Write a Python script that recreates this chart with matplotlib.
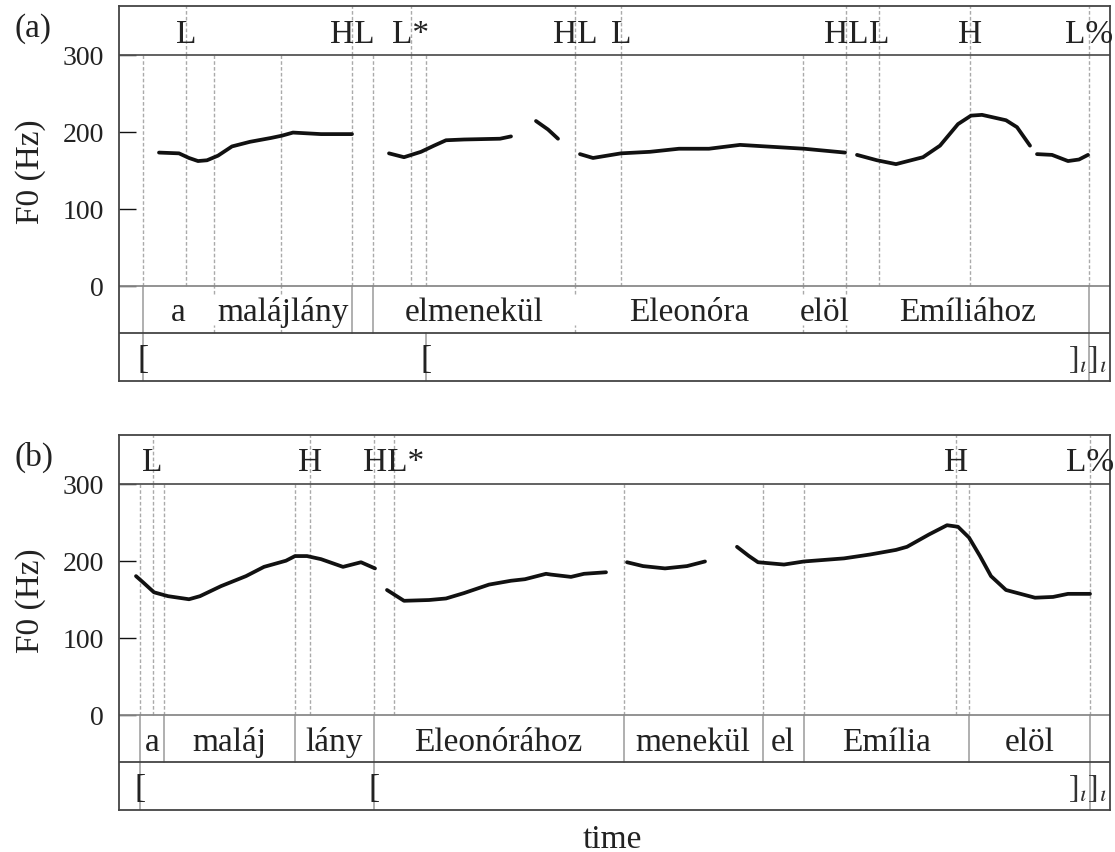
import matplotlib
matplotlib.use('Agg')
import matplotlib.pyplot as plt

plt.rcParams['font.family'] = ['Liberation Serif', 'DejaVu Serif']
plt.rcParams['mathtext.fontset'] = 'stix'

# ---------------- data (time in arbitrary units, F0 in Hz) ----------------
# panel (a)
a_seg1_t = [40, 60, 70, 79, 88, 99, 113, 131, 152, 163, 174, 188, 202, 233]
a_seg1_f = [173, 172, 166, 162, 163, 169, 181, 187, 192, 195, 199, 198, 197, 197]
a_seg2_t = [270, 285, 302, 315, 327, 345, 381, 392]
a_seg2_f = [172, 167, 174, 182, 189, 190, 191, 194]
a_seg3_t = [417, 429, 439]
a_seg3_f = [214, 203, 191]
a_seg4_t = [461, 474, 502, 531, 560, 590, 621, 685, 726]
a_seg4_f = [171, 166, 172, 174, 178, 178, 183, 178, 173]
a_seg5_t = [738, 758, 777, 804, 821, 839, 852, 863, 887, 898, 911]
a_seg5_f = [170, 163, 158, 167, 182, 210, 221, 222, 215, 206, 182]
a_seg6_t = [918, 933, 949, 960, 969]
a_seg6_f = [171, 170, 162, 164, 170]

a_dashed = [24, 67, 95, 162, 233, 254, 292, 307, 456, 502, 684, 727, 760, 851, 970]
a_tone_pos = [67, 233, 292, 456, 502, 727, 760, 851, 970]
a_tone_lab = ['L', 'HL', 'L*', 'HL', 'L', 'HL', 'L', 'H', 'L%']
a_word_solid = [24, 233, 254, 970]
a_word_short = [95, 162, 456, 684, 727]
a_words = ['a', 'malájlány', 'elmenekül', 'Eleonóra', 'elöl', 'Emíliához']
a_word_start = [24, 95, 254, 456, 684, 727]
a_word_end = [95, 233, 456, 684, 727, 970]
a_brk_lines = [24, 307, 970]
a_brk_open = [24, 307]

# panel (b)
b_seg1_t = [17, 24, 35, 49, 70, 81, 102, 127, 145, 167, 176, 188, 202, 224, 242, 256]
b_seg1_f = [180, 172, 159, 154, 150, 154, 167, 180, 192, 200, 206, 206, 202, 192, 198, 190]
b_seg2_t = [268, 285, 310, 327, 345, 370, 392, 406, 427, 432, 452, 465, 487]
b_seg2_f = [162, 148, 149, 151, 158, 169, 174, 176, 183, 182, 179, 183, 185]
b_seg3_t = [508, 524, 546, 568, 586]
b_seg3_f = [198, 193, 190, 193, 199]
b_seg4_t = [618, 630, 639, 665, 685, 725, 751, 777, 788, 810, 828, 839, 850, 861,
            872, 887, 916, 934, 949, 971]
b_seg4_f = [218, 206, 198, 195, 199, 203, 208, 214, 218, 234, 246, 244, 230, 206,
            180, 162, 152, 153, 157, 157]

b_dashed = [21, 33.5, 45, 176, 190.6, 254.6, 274.6, 504.6, 643.6, 684.7, 836.8, 850, 971]
b_tone_pos = [33.5, 190.6, 274.6, 836.8, 971]
b_tone_lab = ['L', 'H', 'HL*', 'H', 'L%']
b_tone_lines = [33.5, 190.6, 254.6, 274.6, 836.8, 971]
b_word_solid = [21, 45, 176, 254.6, 504.6, 643.6, 684.7, 850, 971]
b_word_short = []
b_words = ['a', 'maláj', 'lány', 'Eleonórához', 'menekül', 'el', 'Emília', 'elöl']
b_word_start = [21, 45, 176, 254.6, 504.6, 643.6, 684.7, 850]
b_word_end = [45, 176, 254.6, 504.6, 643.6, 684.7, 850, 971]
b_brk_lines = [21, 254.6, 971]
b_brk_open = [21, 254.6]

yticks = [0, 100, 200, 300]

# ---------------- layout ----------------
W, H = 1115, 853
XMAX = 991
TOP = 363.0
WORD_BOT = -61.5
BOT = -123.3
DASH_C = '#aaaaaa'
SOLID_C = '#9a9a9a'
FRAME_C = '#444444'
TXT_C = '#222222'
FS = 24

fig = plt.figure(figsize=(W / 100, H / 100), dpi=100)


def panel(box_top_px, box_bot_px, segs, dashed, tone_lines, tone_pos, tone_lab,
          word_solid, word_short, words, w_start, w_end, brk_lines, brk_open, tag,
          tag_y_px):
    left = 119 / W
    width = (1110 - 119) / W
    bottom = 1 - box_bot_px / H
    height = (box_bot_px - box_top_px) / H
    ax = fig.add_axes([left, bottom, width, height])
    ax.set_xlim(0, XMAX)
    ax.set_ylim(BOT, TOP)
    for s in ax.spines.values():
        s.set_color(FRAME_C)
        s.set_linewidth(1.3)
    ax.set_xticks([])
    ax.set_yticks(yticks)
    ax.set_yticklabels([str(v) for v in yticks])
    ax.tick_params(axis='y', direction='in', length=12, width=1.0, pad=11,
                   labelsize=20, colors='#111111', labelcolor=TXT_C)

    # tier separators
    ax.axhline(300, color='#555555', lw=1.3, zorder=2)
    ax.axhline(0, color='#8a8a8a', lw=1.3, zorder=2)
    ax.axhline(WORD_BOT, color=FRAME_C, lw=1.3, zorder=2)

    dash = (0, (2.6, 1.6))
    for x in dashed:
        ax.plot([x, x], [0, 300], color=DASH_C, lw=1.0, ls=dash, zorder=1)
    for x in tone_lines:
        ax.plot([x, x], [300, TOP], color=DASH_C, lw=1.0, ls=dash, zorder=1)
    for x in word_solid:
        ax.plot([x, x], [WORD_BOT, 0], color=SOLID_C, lw=1.1, zorder=1)
    for x in word_short:
        ax.plot([x, x], [-11, 0], color=DASH_C, lw=1.0, ls=dash, zorder=1)
        ax.plot([x, x], [WORD_BOT, WORD_BOT + 11], color=DASH_C, lw=1.0, ls=dash, zorder=1)
    for x in brk_lines:
        ax.plot([x, x], [BOT, WORD_BOT], color=SOLID_C, lw=1.1, zorder=1)

    for t, f in segs:
        ax.plot(t, f, color='#111111', lw=2.7, solid_capstyle='round',
                solid_joinstyle='round', zorder=3)

    for x, lab in zip(tone_pos, tone_lab):
        ax.text(x, 317, lab, ha='center', va='baseline', fontsize=FS, color=TXT_C,
                zorder=4)
    for w, s, e in zip(words, w_start, w_end):
        ax.text((s + e) / 2, -45, w, ha='center', va='baseline', fontsize=FS,
                color=TXT_C, zorder=4)
    for x in brk_open:
        ax.text(x, -105, '[', ha='center', va='baseline', fontsize=FS, color=TXT_C)
    ax.text(988, -105, r'$]_{\iota}]_{\iota}$', ha='right', va='baseline',
            fontsize=FS, color='#333333')

    fig.text(14 / W, 1 - tag_y_px / H, tag, ha='left', va='center', fontsize=FS,
             color=TXT_C)
    f0_mid_px = box_top_px + (box_bot_px - box_top_px) * (TOP - 150) / (TOP - BOT)
    fig.text(31 / W, 1 - f0_mid_px / H, 'F0 (Hz)', rotation=90, ha='center',
             va='center', fontsize=FS, color=TXT_C)
    return ax


segs_a = [(a_seg1_t, a_seg1_f), (a_seg2_t, a_seg2_f), (a_seg3_t, a_seg3_f),
          (a_seg4_t, a_seg4_f), (a_seg5_t, a_seg5_f), (a_seg6_t, a_seg6_f)]
segs_b = [(b_seg1_t, b_seg1_f), (b_seg2_t, b_seg2_f), (b_seg3_t, b_seg3_f),
          (b_seg4_t, b_seg4_f)]

panel(7.3, 381.7, segs_a, a_dashed, a_tone_pos, a_tone_pos, a_tone_lab,
      a_word_solid, a_word_short, a_words, a_word_start, a_word_end,
      a_brk_lines, a_brk_open, '(a)', 29)
panel(436, 811, segs_b, b_dashed, b_tone_lines, b_tone_pos, b_tone_lab,
      b_word_solid, b_word_short, b_words, b_word_start, b_word_end,
      b_brk_lines, b_brk_open, '(b)', 457)

fig.text(612 / W, 1 - 840 / H, 'time', ha='center', va='center', fontsize=FS,
         color=TXT_C)

fig.savefig('out.png', dpi=100)
